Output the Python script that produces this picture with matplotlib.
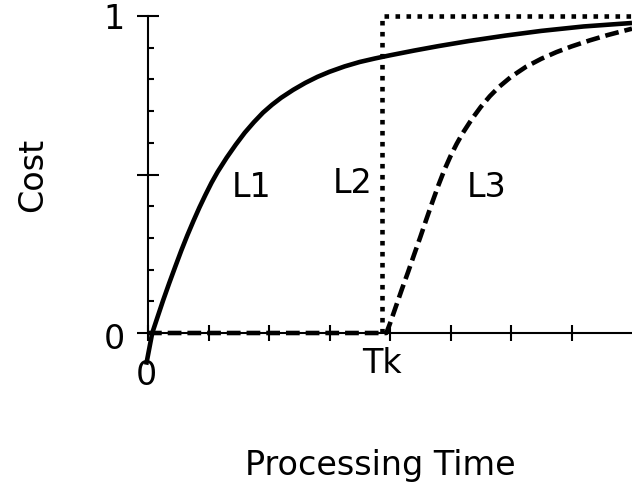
import matplotlib.pyplot as plt
from matplotlib.ticker import FixedLocator

# L1: cost rises right away and saturates
l1_x = [-0.03, 0.07, 0.15, 0.25, 0.35, 0.45, 0.55, 0.65, 0.75, 0.85, 0.95, 1.05,
        1.15, 1.30, 1.45, 1.60, 1.75, 1.90, 2.05, 2.20, 2.40, 2.60, 2.80, 3.00,
        3.25, 3.50, 3.75, 4.00, 4.40, 4.80, 5.30, 5.90, 6.50, 7.20, 8.00]
l1_y = [-0.10, 0.0, 0.046, 0.103, 0.157, 0.209, 0.260, 0.308, 0.353, 0.396, 0.436,
        0.474, 0.508, 0.553, 0.594, 0.632, 0.665, 0.695, 0.720, 0.742, 0.767,
        0.789, 0.808, 0.824, 0.841, 0.855, 0.866, 0.876, 0.891, 0.905, 0.921,
        0.938, 0.953, 0.967, 0.978]

# L2: step at Tk
l2_x = [3.87, 3.87, 8.00]
l2_y = [0.0, 1.0, 1.0]

# L3: flat until Tk, then rises
l3_x = [0.0, 3.94, 4.00, 4.10, 4.20, 4.30, 4.40, 4.50, 4.60, 4.70, 4.80, 4.90,
        5.00, 5.10, 5.20, 5.35, 5.50, 5.65, 5.80, 6.00, 6.25, 6.50, 6.75, 7.00,
        7.30, 7.60, 8.00]
l3_y = [0.0, 0.0, 0.030, 0.085, 0.140, 0.193, 0.248, 0.302, 0.358, 0.413, 0.466,
        0.515, 0.558, 0.596, 0.630, 0.674, 0.713, 0.747, 0.776, 0.808, 0.840,
        0.865, 0.886, 0.904, 0.923, 0.940, 0.960]

x_ticks = [0, 1, 2, 3, 4, 5, 6, 7]
y_major = [0, 0.5, 1]
y_minor = [0.1, 0.2, 0.3, 0.4, 0.6, 0.7, 0.8, 0.9]

tk = 3.87

plt.rcParams["font.family"] = ["DejaVu Sans"]
fig = plt.figure(figsize=(6.32, 4.91), dpi=100)
ax = fig.add_axes([148 / 632, 158 / 491, 484 / 632, 317 / 491])

lw = 3.3
ax.plot(l3_x, l3_y, color="black", lw=lw, dashes=(3.0, 1.3),
        solid_capstyle="butt", dash_capstyle="butt", clip_on=False, zorder=3)
ax.plot(l2_x, l2_y, color="black", lw=lw, dashes=(1, 1.4),
        dash_capstyle="butt", clip_on=False, zorder=3)
ax.plot(l1_x, l1_y, color="black", lw=lw, solid_capstyle="butt",
        solid_joinstyle="round", clip_on=False, zorder=4)

ax.set_xlim(0, 8)
ax.set_ylim(0, 1)

for side in ["top", "right"]:
    ax.spines[side].set_visible(False)
for side in ["left", "bottom"]:
    ax.spines[side].set_linewidth(1.5)

ax.set_xticks(x_ticks)
ax.set_xticklabels([])
ax.set_yticks(y_major)
ax.set_yticklabels([])
ax.yaxis.set_minor_locator(FixedLocator(y_minor))
ax.tick_params(axis="x", which="major", direction="inout", length=12, width=1.5)
ax.tick_params(axis="y", which="major", direction="inout", length=16, width=1.5)
ax.tick_params(axis="y", which="minor", direction="in", length=4.5, width=1.5)

fs = 24
ax.text(-0.38, -0.019, "0", ha="right", va="center", fontsize=fs)
ax.text(-0.38, 0.989, "1", ha="right", va="center", fontsize=fs)
ax.text(-0.02, -0.134, "0", ha="center", va="center", fontsize=fs)
ax.text(tk, -0.095, "Tk", ha="center", va="center", fontsize=fs)

ax.text(1.39, 0.46, "L1", ha="left", va="center", fontsize=fs)
ax.text(3.06, 0.473, "L2", ha="left", va="center", fontsize=fs)
ax.text(5.27, 0.46, "L3", ha="left", va="center", fontsize=fs)

ax.set_xlabel("Processing Time", fontsize=fs, va="center")
ax.xaxis.set_label_coords((380 - 148) / 484, (333 - 465) / 317)
ax.set_ylabel("Cost", fontsize=fs, va="center")
ax.yaxis.set_label_coords((33 - 148) / 484, 0.5)

fig.savefig("out.png", dpi=100)
